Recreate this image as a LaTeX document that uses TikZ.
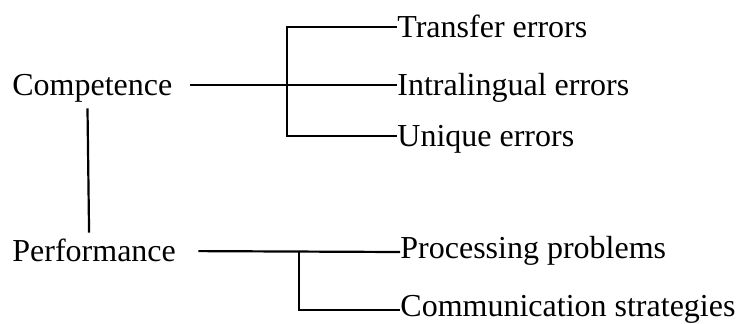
\documentclass[tikz,border=0pt]{standalone}
\usepackage{fontspec}
\setmainfont{Liberation Serif}
\usepackage{tikz}
\usetikzlibrary{positioning}

\begin{document}
\begin{tikzpicture}[
  x=0.5pt, y=-0.5pt,
  font=\fontsize{16}{19}\selectfont,
  term/.style={anchor=west, inner sep=0pt, text height=11.5pt, text depth=1.5pt},
  lowterm/.style={term, text depth=5.5pt},
  link/.style={draw=black, line width=1.1pt},
]
\useasboundingbox (0,0) rectangle (738,323);

%-- LEFT: the two levels
\node[term] (comp) at (12, 85)  {Competence};
\node[term] (perf) at (12, 251) {Performance};

\draw[link, shorten <=5pt, shorten >=2.5pt]
  ([xshift=-2.5pt]comp.south) -- ([xshift=-2.5pt]perf.north);

%-- RIGHT: competence errors
\node[term] (trans) at (397, 27)  {Transfer errors};
\node[term] (intra) at (397, 85)  {Intralingual errors};
\node[term] (uniq)  at (397, 136) {Unique errors};

\coordinate (cbr) at (287, 85);
\draw[link, shorten <=8.5pt] (comp.east) -- (intra.west);
\draw[link] (trans.west) -| (cbr) |- (uniq.west);

%-- RIGHT: performance errors
\node[lowterm] (proc) at (400, 252) {Processing problems};
\node[lowterm] (comm) at (400, 310) {Communication strategies};

\coordinate (pbr) at (299, 252);
\draw[link, shorten <=11pt] (perf.east) -- (proc.west);
\draw[link] (pbr) |- (comm.west);

\end{tikzpicture}
\end{document}
